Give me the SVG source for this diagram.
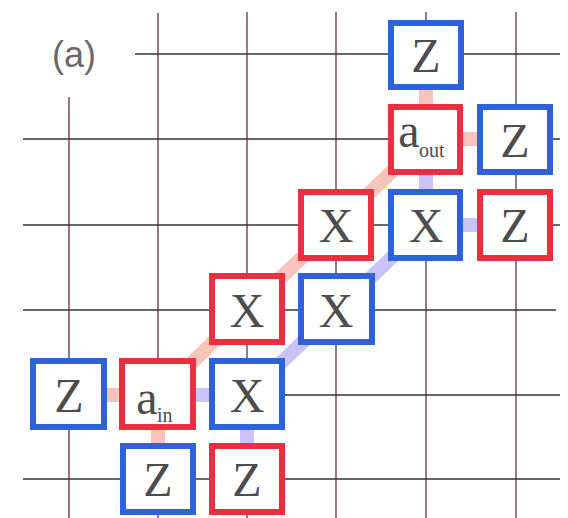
<svg xmlns="http://www.w3.org/2000/svg" width="568" height="518" viewBox="0 0 568 518">
<style>
.gv{stroke:#7a4a68;stroke-width:1.5;fill:none}
.gh{stroke:#3a3035;stroke-width:1.6;fill:none}
.rb{stroke:#f7c4bb;stroke-width:14;stroke-linecap:butt;fill:none}
.bb{stroke:#cbc3f7;stroke-width:14;stroke-linecap:butt;fill:none}
.bx{fill:#fff;stroke-width:6}
.blue{stroke:#2f62d8}
.red{stroke:#ea2f40}
.t{font-family:"Liberation Serif","Times New Roman",serif;font-size:48px;fill:#4d4d4d;text-anchor:middle}
.s{font-family:"Liberation Serif","Times New Roman",serif;font-size:20px;fill:#4d4d4d}
.lab{font-family:"Liberation Sans",Arial,sans-serif;font-size:36px;fill:#6a6a6a}
</style>
<rect width="568" height="518" fill="#fff"/>
<g id="grid">
<line class="gv" x1="69" y1="97" x2="69" y2="518"/>
<line class="gv" x1="158" y1="13" x2="158" y2="518"/>
<line class="gv" x1="247" y1="12" x2="247" y2="518"/>
<line class="gv" x1="336" y1="12" x2="336" y2="518"/>
<line class="gv" x1="426" y1="12" x2="426" y2="518"/>
<line class="gv" x1="516" y1="12" x2="516" y2="518"/>
<line class="gh" x1="135" y1="54" x2="560" y2="54"/>
<line class="gh" x1="23" y1="139" x2="560" y2="139"/>
<line class="gh" x1="23" y1="225" x2="560" y2="225"/>
<line class="gh" x1="23" y1="310" x2="556" y2="310"/>
<line class="gh" x1="30" y1="395" x2="560" y2="395"/>
<line class="gh" x1="23" y1="479" x2="560" y2="479"/>
</g>
<g id="connectors">
<line class="rb" x1="158" y1="395" x2="426" y2="139"/>
<line class="rb" x1="158" y1="395" x2="69" y2="395"/>
<line class="rb" x1="158" y1="395" x2="158" y2="479"/>
<line class="rb" x1="426" y1="139" x2="426" y2="54"/>
<line class="rb" x1="426" y1="139" x2="516" y2="139"/>
<line class="bb" x1="247" y1="395" x2="426" y2="225"/>
<line class="bb" x1="247" y1="395" x2="158" y2="395"/>
<line class="bb" x1="247" y1="395" x2="247" y2="479"/>
<line class="bb" x1="426" y1="225" x2="426" y2="139"/>
<line class="bb" x1="426" y1="225" x2="516" y2="225"/>
</g>
<g id="n_z_top"><rect class="bx blue" x="391" y="23" width="70" height="64"/><text class="t" x="426" y="72">Z</text></g>
<g id="n_aout"><rect class="bx red" x="391" y="107" width="69" height="65"/><text class="t" x="409" y="147">a</text><text class="s" x="419" y="157">out</text></g>
<g id="n_z_r1"><rect class="bx blue" x="480" y="107" width="70" height="65"/><text class="t" x="515" y="157">Z</text></g>
<g id="n_x_r2a"><rect class="bx red" x="301" y="192" width="70" height="66"/><text class="t" x="336" y="242">X</text></g>
<g id="n_x_r2b"><rect class="bx blue" x="391" y="192" width="69" height="66"/><text class="t" x="426" y="242">X</text></g>
<g id="n_z_r2"><rect class="bx red" x="480" y="192" width="70" height="66"/><text class="t" x="515" y="242">Z</text></g>
<g id="n_x_r3a"><rect class="bx red" x="212" y="276" width="70" height="66"/><text class="t" x="247" y="327">X</text></g>
<g id="n_x_r3b"><rect class="bx blue" x="301" y="276" width="71" height="66"/><text class="t" x="336" y="327">X</text></g>
<g id="n_z_r4"><rect class="bx blue" x="33" y="361" width="71" height="66"/><text class="t" x="69" y="412">Z</text></g>
<g id="n_ain"><rect class="bx red" x="122" y="361" width="71" height="66"/><text class="t" x="147" y="414">a</text><text class="s" x="157" y="422">in</text></g>
<g id="n_x_r4"><rect class="bx blue" x="212" y="361" width="70" height="66"/><text class="t" x="247" y="412">X</text></g>
<g id="n_z_r5a"><rect class="bx blue" x="123" y="446" width="70" height="66"/><text class="t" x="158" y="496">Z</text></g>
<g id="n_z_r5b"><rect class="bx red" x="212" y="446" width="70" height="66"/><text class="t" x="247" y="496">Z</text></g>
<text class="lab" x="52" y="67">(a)</text>
</svg>
